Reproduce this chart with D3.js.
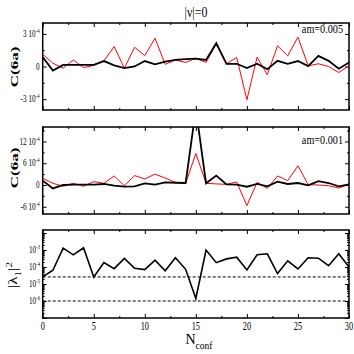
<!DOCTYPE html>
<html>
<head>
<meta charset="utf-8">
<script src="https://cdn.jsdelivr.net/npm/d3@7"></script>
<style>
	body { margin: 0; background: #fff; }
	text { font-family: "Liberation Serif", "Times New Roman", serif; fill: #000; }
</style>
</head>
<body>
<div id="chart-area"></div>
<script>

// configurations 0..30
let nConf = d3.range(0, 31);

// C(6a), am=0.005, in units of 1e-4
let c005Black = [0.86, -0.37, 0.15, 0.15, 0.15, 0.15, 0.5, 0.1, -0.15, 0, 0.5, 0.2, 0.45, 0.6, 0.67, 0.73,
	0.6, 2.14, 0.25, 0.25, -0.15, 0.25, -0.25, 0.52, 0.25, 0.5, 0.03, 0.98, 0.52, -0.2, 0.37];
let c005Red = [1.13, 0.3, -0.15, 0.6, -0.1, 0.1, 0.52, 1.83, -0.15, 1.77, 1.0, 2.6, 0.2, 0.6, 0.37, 0.76,
	0.37, 2.1, 0.25, 0.83, -3.06, 0.86, -0.76, 1.9, 0.98, 2.7, 0.06, 0.25, 0, -0.55, 0.06];

// C(6a), am=0.001, in units of 1e-4
let c001Black = [1.2, -0.94, 0, 0.1, 0.1, 0.1, 0.28, -0.2, -0.47, -0.36, 0.47, 0.1, 0.73, 0.62, 0.55, 21,
	0.47, 2.6, 0.19, 0.1, -0.47, 0.28, -0.36, 0.94, 0.28, 0.55, -0.1, 1.04, 0.55, -0.36, 0.19];
let c001Red = [1.84, 0.47, -0.36, 0.47, -0.36, 0.94, 0.47, 2.5, -0.2, 2.6, 1.66, 3.0, 1.92, 0.73, 0.47, 8.7,
	0.47, 0.3, 0.19, 0.83, -5.7, 0.73, -0.94, 2.5, 1.2, 5.3, 0.1, 0, -0.2, -0.83, 0.19];

// |lambda_1|^2
let lambda1 = [2.6e-5, 6.4e-5, 1.3e-3, 5.2e-4, 1.35e-3, 2.6e-5, 1.8e-4, 8e-5, 3.2e-4, 8.4e-5, 7e-5, 2.5e-4,
	6e-5, 3.5e-4, 7.3e-5, 1.4e-6, 1e-3, 1.8e-4, 3e-4, 3.8e-4, 6.7e-5, 5.2e-4, 6e-4, 4.1e-5, 2.3e-4, 7.7e-5,
	3.5e-4, 3.3e-4, 1.2e-4, 6e-4, 1e-4];
let lambdaCuts = [2.6e-5, 1e-6];

// tick labels
let xTicks = [0, 5, 10, 15, 20, 25, 30];
let xMinor = [2.5, 7.5, 12.5, 17.5, 22.5, 27.5];
let y1Ticks = [-3, 0, 3];
let y1Minor = [-1.5, 1.5];
let y2Ticks = [-6, 0, 6, 12];
let y2Minor = [-3, 3, 9, 15];
let y3Labels = [-3, -4, -5, -6];

let width = 354, height = 354;
let left = 42.7, right = 349;
let panels = [
	{top: 23, bottom: 110},
	{top: 127, bottom: 214},
	{top: 230, bottom: 318}
];

let svg = d3.select("#chart-area").append("svg")
	.attr("width", width)
	.attr("height", height);

let x = d3.scaleLinear().domain([0, 30]).range([left, right]);
let y1 = d3.scaleLinear().domain([-4, 4]).range([panels[0].bottom, panels[0].top]);
let y2 = d3.scaleLinear().domain([-8, 16]).range([panels[1].bottom, panels[1].top]);
let y3 = d3.scaleLog().domain([1e-7, 1.5e-2]).range([panels[2].bottom, panels[2].top]);

// clip paths
panels.forEach((p, i) => {
	svg.append("clipPath").attr("id", "clip" + i)
		.append("rect")
		.attr("x", left).attr("y", p.top)
		.attr("width", right - left).attr("height", p.bottom - p.top);
});

// inward ticks on all four sides
function drawTicks(p, yScale, major, minor) {
	[[xTicks, 4], [xMinor, 2]].forEach(([vals, len]) => {
		svg.append("g").attr("class", "axis").attr("transform", "translate(0," + p.bottom + ")")
			.call(d3.axisBottom(x).tickValues(vals).tickSize(-len).tickFormat(""));
		svg.append("g").attr("class", "axis").attr("transform", "translate(0," + p.top + ")")
			.call(d3.axisTop(x).tickValues(vals).tickSize(-len).tickFormat(""));
	});
	[[major, 4], [minor, 2]].forEach(([vals, len]) => {
		svg.append("g").attr("class", "axis").attr("transform", "translate(" + left + ",0)")
			.call(d3.axisLeft(yScale).tickValues(vals).tickSize(-len).tickFormat(""));
		svg.append("g").attr("class", "axis").attr("transform", "translate(" + right + ",0)")
			.call(d3.axisRight(yScale).tickValues(vals).tickSize(-len).tickFormat(""));
	});
}

// log ticks
let logMajor = [], logMinor = [];
for (let e = -7; e <= -2; e++) {
	logMajor.push(Math.pow(10, e));
	for (let m = 2; m <= 9; m++) {
		let v = m * Math.pow(10, e);
		if (v <= 1.5e-2) logMinor.push(v);
	}
}

drawTicks(panels[0], y1, y1Ticks, y1Minor);
drawTicks(panels[1], y2, y2Ticks, y2Minor);
drawTicks(panels[2], y3, logMajor, logMinor);

svg.selectAll(".axis .domain").remove();
svg.selectAll(".axis line").attr("stroke", "#000").attr("stroke-width", 1);

// frames
panels.forEach(p => {
	svg.append("rect")
		.attr("x", left).attr("y", p.top)
		.attr("width", right - left).attr("height", p.bottom - p.top)
		.attr("fill", "none").attr("stroke", "#000").attr("stroke-width", 1.5);
});

// lines
function drawLine(panel, yScale, values, color, w) {
	let line = d3.line()
		.x((d, i) => x(nConf[i]))
		.y(d => yScale(d));
	svg.append("path")
		.datum(values)
		.attr("clip-path", "url(#clip" + panel + ")")
		.attr("fill", "none")
		.attr("stroke", color)
		.attr("stroke-width", w)
		.attr("d", line);
}

drawLine(0, y1, c005Red, "#ff0000", 1);
drawLine(0, y1, c005Black, "#000", 1.8);
drawLine(1, y2, c001Red, "#ff0000", 1);
drawLine(1, y2, c001Black, "#000", 1.8);

lambdaCuts.forEach(c => {
	svg.append("line")
		.attr("x1", left).attr("x2", right)
		.attr("y1", y3(c)).attr("y2", y3(c))
		.attr("stroke", "#000").attr("stroke-width", 1)
		.attr("stroke-dasharray", "3,2");
});
drawLine(2, y3, lambda1, "#000", 1.6);

// squeezed text helper (the original figure has narrow glyphs)
function label(xp, yp, sx, anchor, size, parts, rot) {
	let g = svg.append("g")
		.attr("transform", "translate(" + xp + "," + yp + ") scale(" + sx + ",1)" + (rot ? " rotate(-90)" : ""));
	let t = g.append("text")
		.attr("text-anchor", anchor)
		.attr("font-size", size);
	parts.forEach(pt => {
		let s = t.append("tspan").text(pt.t);
		if (pt.sup) s.attr("font-size", size * 0.65).attr("dy", pt.dy || -size * 0.4);
		if (pt.sub) s.attr("font-size", size * 0.65).attr("dy", size * 0.3);
		if (pt.back) s.attr("dy", pt.back);
	});
	return t;
}

function sciParts(m) {
	if (m === 0) return [{t: "0"}];
	return [{t: m + " 10"}, {t: "-4", sup: true}];
}

// y tick labels
y1Ticks.forEach(v => label(39.5, y1(v) + 3, 0.72, "end", 10, sciParts(v)));
y2Ticks.forEach(v => label(39.5, y2(v) + 3, 0.72, "end", 10, sciParts(v)));
y3Labels.forEach(e => label(40, y3(Math.pow(10, e)) + 3, 0.72, "end", 10,
	[{t: "10"}, {t: String(e), sup: true}]));

// x tick labels
xTicks.forEach(v => label(x(v), 330, 0.72, "middle", 11.5, [{t: String(v)}]));

// axis titles
label(18, 67, 0.62, "middle", 17, [{t: "C(6a)"}], true).attr("font-weight", "bold");
label(18, 168, 0.62, "middle", 17, [{t: "C(6a)"}], true).attr("font-weight", "bold");
label(17, 275, 0.7, "middle", 17, [{t: "|λ"}, {t: "1", sub: true}, {t: "|", back: -5}, {t: "2", sup: true, dy: -7}], true);

let nl = svg.append("text").attr("x", 199).attr("y", 344).attr("text-anchor", "middle").attr("font-size", 14);
nl.append("tspan").text("N");
nl.append("tspan").text("conf").attr("font-size", 9.5).attr("dy", 5);

// title and annotations
label(196, 17, 0.85, "middle", 14, [{t: "|ν|=0"}]);
label(343, 33, 0.85, "end", 12, [{t: "am=0.005"}]);
label(343, 144, 0.85, "end", 12, [{t: "am=0.001"}]);

</script>
</body>
</html>
